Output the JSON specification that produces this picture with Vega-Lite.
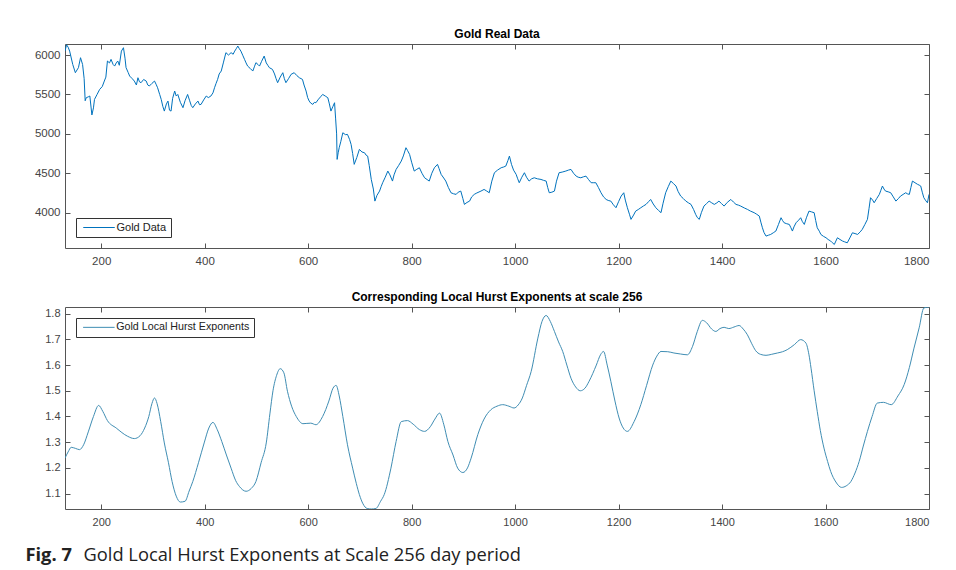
{
  "$schema": "https://vega.github.io/schema/vega-lite/v6.json",
  "background": "white",
  "padding": {"left": 24, "top": 27, "right": 5, "bottom": 5},
  "bounds": "flush",
  "spacing": 59,
  "datasets": {
    "gold": [
      {"day":130,"price":6050},{"day":133,"price":6130},{"day":136,"price":6100},{"day":139,"price":6050},{"day":145,"price":5880},{"day":150,"price":5776},{"day":156,"price":5840},{"day":160,"price":5966},{"day":164,"price":5880},{"day":167,"price":5700},{"day":169,"price":5420},{"day":171,"price":5458},{"day":175,"price":5470},{"day":178,"price":5480},{"day":182,"price":5240},{"day":185,"price":5330},{"day":187,"price":5437},{"day":192,"price":5500},{"day":197,"price":5564},{"day":202,"price":5600},{"day":206,"price":5670},{"day":209,"price":5720},{"day":212,"price":5924},{"day":216,"price":5900},{"day":219,"price":5945},{"day":223,"price":5880},{"day":226,"price":5860},{"day":229,"price":5900},{"day":232,"price":5924},{"day":235,"price":5870},{"day":239,"price":6050},{"day":243,"price":6093},{"day":246,"price":5960},{"day":248,"price":5840},{"day":252,"price":5780},{"day":255,"price":5733},{"day":260,"price":5700},{"day":264,"price":5670},{"day":268,"price":5620},{"day":271,"price":5712},{"day":274,"price":5660},{"day":277,"price":5649},{"day":282,"price":5690},{"day":287,"price":5670},{"day":290,"price":5620},{"day":293,"price":5607},{"day":298,"price":5640},{"day":303,"price":5670},{"day":306,"price":5630},{"day":309,"price":5585},{"day":313,"price":5500},{"day":316,"price":5437},{"day":319,"price":5350},{"day":322,"price":5289},{"day":326,"price":5380},{"day":329,"price":5416},{"day":332,"price":5300},{"day":335,"price":5289},{"day":338,"price":5450},{"day":342,"price":5543},{"day":345,"price":5480},{"day":348,"price":5500},{"day":353,"price":5400},{"day":358,"price":5332},{"day":362,"price":5420},{"day":367,"price":5500},{"day":371,"price":5420},{"day":374,"price":5360},{"day":377,"price":5332},{"day":382,"price":5380},{"day":387,"price":5416},{"day":390,"price":5370},{"day":393,"price":5374},{"day":398,"price":5430},{"day":403,"price":5480},{"day":407,"price":5460},{"day":412,"price":5480},{"day":416,"price":5520},{"day":419,"price":5585},{"day":422,"price":5640},{"day":425,"price":5691},{"day":428,"price":5760},{"day":432,"price":5797},{"day":436,"price":5900},{"day":441,"price":6030},{"day":446,"price":6000},{"day":451,"price":6030},{"day":455,"price":6010},{"day":458,"price":6050},{"day":461,"price":6080},{"day":464,"price":6114},{"day":467,"price":6080},{"day":470,"price":6050},{"day":474,"price":5990},{"day":477,"price":5945},{"day":480,"price":5900},{"day":483,"price":5860},{"day":488,"price":5830},{"day":493,"price":5797},{"day":496,"price":5850},{"day":499,"price":5903},{"day":503,"price":5880},{"day":506,"price":5860},{"day":510,"price":5920},{"day":515,"price":5987},{"day":519,"price":5900},{"day":522,"price":5870},{"day":525,"price":5840},{"day":531,"price":5818},{"day":535,"price":5760},{"day":538,"price":5700},{"day":541,"price":5649},{"day":546,"price":5720},{"day":551,"price":5776},{"day":554,"price":5700},{"day":557,"price":5649},{"day":562,"price":5700},{"day":567,"price":5755},{"day":573,"price":5776},{"day":578,"price":5740},{"day":583,"price":5712},{"day":589,"price":5691},{"day":592,"price":5620},{"day":596,"price":5543},{"day":599,"price":5460},{"day":602,"price":5416},{"day":605,"price":5390},{"day":609,"price":5374},{"day":612,"price":5400},{"day":615,"price":5395},{"day":620,"price":5440},{"day":624,"price":5470},{"day":628,"price":5500},{"day":633,"price":5480},{"day":638,"price":5458},{"day":641,"price":5380},{"day":644,"price":5289},{"day":648,"price":5350},{"day":651,"price":5395},{"day":653,"price":5200},{"day":655,"price":5000},{"day":656,"price":4676},{"day":658,"price":4760},{"day":660,"price":4824},{"day":663,"price":4900},{"day":667,"price":5014},{"day":672,"price":4990},{"day":676,"price":4993},{"day":680,"price":4930},{"day":683,"price":4866},{"day":686,"price":4750},{"day":689,"price":4613},{"day":694,"price":4700},{"day":699,"price":4803},{"day":704,"price":4770},{"day":709,"price":4760},{"day":712,"price":4730},{"day":715,"price":4718},{"day":718,"price":4600},{"day":722,"price":4422},{"day":726,"price":4300},{"day":729,"price":4147},{"day":733,"price":4220},{"day":738,"price":4274},{"day":741,"price":4330},{"day":744,"price":4380},{"day":749,"price":4450},{"day":754,"price":4528},{"day":758,"price":4480},{"day":763,"price":4401},{"day":766,"price":4480},{"day":770,"price":4549},{"day":775,"price":4600},{"day":780,"price":4655},{"day":784,"price":4720},{"day":789,"price":4824},{"day":792,"price":4790},{"day":796,"price":4740},{"day":800,"price":4640},{"day":805,"price":4528},{"day":810,"price":4550},{"day":815,"price":4570},{"day":820,"price":4500},{"day":825,"price":4443},{"day":830,"price":4420},{"day":834,"price":4401},{"day":839,"price":4500},{"day":844,"price":4570},{"day":850,"price":4613},{"day":853,"price":4560},{"day":857,"price":4486},{"day":862,"price":4440},{"day":866,"price":4401},{"day":871,"price":4320},{"day":876,"price":4253},{"day":881,"price":4240},{"day":886,"price":4232},{"day":890,"price":4260},{"day":895,"price":4274},{"day":899,"price":4180},{"day":902,"price":4105},{"day":907,"price":4130},{"day":912,"price":4147},{"day":916,"price":4200},{"day":921,"price":4232},{"day":926,"price":4250},{"day":934,"price":4274},{"day":940,"price":4295},{"day":945,"price":4275},{"day":950,"price":4253},{"day":955,"price":4400},{"day":960,"price":4507},{"day":966,"price":4540},{"day":973,"price":4570},{"day":978,"price":4580},{"day":982,"price":4591},{"day":986,"price":4660},{"day":989,"price":4718},{"day":993,"price":4613},{"day":997,"price":4540},{"day":1002,"price":4486},{"day":1005,"price":4430},{"day":1008,"price":4380},{"day":1013,"price":4450},{"day":1018,"price":4507},{"day":1022,"price":4450},{"day":1027,"price":4401},{"day":1032,"price":4430},{"day":1037,"price":4443},{"day":1043,"price":4430},{"day":1050,"price":4422},{"day":1055,"price":4410},{"day":1060,"price":4401},{"day":1063,"price":4320},{"day":1066,"price":4253},{"day":1071,"price":4260},{"day":1076,"price":4274},{"day":1080,"price":4400},{"day":1085,"price":4507},{"day":1091,"price":4515},{"day":1098,"price":4528},{"day":1103,"price":4540},{"day":1108,"price":4549},{"day":1113,"price":4500},{"day":1118,"price":4464},{"day":1122,"price":4450},{"day":1127,"price":4443},{"day":1132,"price":4455},{"day":1137,"price":4464},{"day":1142,"price":4420},{"day":1147,"price":4380},{"day":1151,"price":4380},{"day":1156,"price":4380},{"day":1161,"price":4320},{"day":1166,"price":4253},{"day":1171,"price":4200},{"day":1176,"price":4168},{"day":1180,"price":4155},{"day":1185,"price":4147},{"day":1190,"price":4100},{"day":1195,"price":4063},{"day":1200,"price":4140},{"day":1205,"price":4211},{"day":1210,"price":4253},{"day":1213,"price":4160},{"day":1217,"price":4063},{"day":1221,"price":3980},{"day":1224,"price":3915},{"day":1229,"price":3970},{"day":1233,"price":4020},{"day":1238,"price":4040},{"day":1243,"price":4063},{"day":1248,"price":4085},{"day":1253,"price":4105},{"day":1258,"price":4140},{"day":1262,"price":4168},{"day":1267,"price":4110},{"day":1272,"price":4063},{"day":1277,"price":4030},{"day":1282,"price":4000},{"day":1286,"price":4120},{"day":1291,"price":4253},{"day":1296,"price":4330},{"day":1301,"price":4401},{"day":1306,"price":4370},{"day":1311,"price":4338},{"day":1315,"price":4270},{"day":1320,"price":4211},{"day":1325,"price":4180},{"day":1330,"price":4147},{"day":1335,"price":4125},{"day":1340,"price":4105},{"day":1345,"price":4040},{"day":1349,"price":3978},{"day":1352,"price":3940},{"day":1356,"price":3915},{"day":1360,"price":4000},{"day":1365,"price":4084},{"day":1370,"price":4115},{"day":1375,"price":4147},{"day":1380,"price":4125},{"day":1385,"price":4105},{"day":1390,"price":4125},{"day":1394,"price":4147},{"day":1399,"price":4115},{"day":1404,"price":4084},{"day":1410,"price":4130},{"day":1417,"price":4168},{"day":1422,"price":4135},{"day":1427,"price":4105},{"day":1432,"price":4095},{"day":1436,"price":4084},{"day":1443,"price":4060},{"day":1449,"price":4042},{"day":1455,"price":4020},{"day":1462,"price":4000},{"day":1467,"price":3980},{"day":1472,"price":3957},{"day":1475,"price":3880},{"day":1478,"price":3809},{"day":1481,"price":3750},{"day":1485,"price":3703},{"day":1490,"price":3715},{"day":1494,"price":3724},{"day":1499,"price":3745},{"day":1504,"price":3767},{"day":1509,"price":3850},{"day":1514,"price":3936},{"day":1517,"price":3900},{"day":1520,"price":3872},{"day":1525,"price":3860},{"day":1530,"price":3851},{"day":1533,"price":3810},{"day":1536,"price":3767},{"day":1539,"price":3820},{"day":1543,"price":3872},{"day":1548,"price":3905},{"day":1552,"price":3936},{"day":1555,"price":3890},{"day":1559,"price":3851},{"day":1563,"price":3935},{"day":1568,"price":4020},{"day":1573,"price":4010},{"day":1578,"price":4000},{"day":1581,"price":3900},{"day":1584,"price":3809},{"day":1588,"price":3765},{"day":1591,"price":3724},{"day":1596,"price":3700},{"day":1601,"price":3682},{"day":1605,"price":3660},{"day":1610,"price":3640},{"day":1613,"price":3620},{"day":1617,"price":3597},{"day":1620,"price":3640},{"day":1623,"price":3682},{"day":1628,"price":3660},{"day":1633,"price":3640},{"day":1637,"price":3630},{"day":1642,"price":3618},{"day":1647,"price":3680},{"day":1652,"price":3745},{"day":1657,"price":3735},{"day":1662,"price":3724},{"day":1667,"price":3756},{"day":1671,"price":3788},{"day":1676,"price":3850},{"day":1681,"price":3915},{"day":1684,"price":4050},{"day":1687,"price":4190},{"day":1691,"price":4160},{"day":1694,"price":4126},{"day":1699,"price":4180},{"day":1704,"price":4232},{"day":1707,"price":4285},{"day":1710,"price":4338},{"day":1713,"price":4300},{"day":1716,"price":4274},{"day":1721,"price":4265},{"day":1726,"price":4253},{"day":1731,"price":4200},{"day":1736,"price":4147},{"day":1741,"price":4180},{"day":1745,"price":4211},{"day":1750,"price":4232},{"day":1755,"price":4253},{"day":1758,"price":4240},{"day":1762,"price":4232},{"day":1765,"price":4320},{"day":1768,"price":4401},{"day":1773,"price":4380},{"day":1778,"price":4359},{"day":1781,"price":4350},{"day":1784,"price":4338},{"day":1787,"price":4260},{"day":1790,"price":4190},{"day":1794,"price":4150},{"day":1797,"price":4126},{"day":1800,"price":4232}
    ],
    "hurst": [
      {"day":130,"h":1.238},{"day":136,"h":1.262},{"day":142,"h":1.28},{"day":150,"h":1.276},{"day":158,"h":1.271},{"day":166,"h":1.29},{"day":175,"h":1.34},{"day":185,"h":1.40},{"day":195,"h":1.443},{"day":203,"h":1.42},{"day":212,"h":1.384},{"day":229,"h":1.355},{"day":251,"h":1.323},{"day":264,"h":1.314},{"day":275,"h":1.325},{"day":284,"h":1.355},{"day":292,"h":1.40},{"day":298,"h":1.45},{"day":303,"h":1.472},{"day":308,"h":1.45},{"day":315,"h":1.38},{"day":322,"h":1.297},{"day":330,"h":1.22},{"day":337,"h":1.147},{"day":345,"h":1.09},{"day":353,"h":1.067},{"day":362,"h":1.07},{"day":370,"h":1.11},{"day":377,"h":1.147},{"day":388,"h":1.22},{"day":399,"h":1.297},{"day":408,"h":1.355},{"day":416,"h":1.377},{"day":424,"h":1.35},{"day":433,"h":1.303},{"day":442,"h":1.25},{"day":451,"h":1.199},{"day":460,"h":1.15},{"day":467,"h":1.128},{"day":480,"h":1.109},{"day":490,"h":1.12},{"day":499,"h":1.147},{"day":509,"h":1.22},{"day":519,"h":1.297},{"day":526,"h":1.41},{"day":532,"h":1.50},{"day":539,"h":1.56},{"day":546,"h":1.586},{"day":553,"h":1.57},{"day":560,"h":1.498},{"day":568,"h":1.44},{"day":577,"h":1.40},{"day":590,"h":1.372},{"day":605,"h":1.374},{"day":615,"h":1.368},{"day":628,"h":1.40},{"day":640,"h":1.46},{"day":648,"h":1.51},{"day":654,"h":1.521},{"day":660,"h":1.48},{"day":667,"h":1.40},{"day":676,"h":1.29},{"day":686,"h":1.199},{"day":693,"h":1.14},{"day":699,"h":1.096},{"day":706,"h":1.06},{"day":714,"h":1.042},{"day":722,"h":1.04},{"day":731,"h":1.042},{"day":740,"h":1.07},{"day":747,"h":1.096},{"day":760,"h":1.199},{"day":770,"h":1.303},{"day":780,"h":1.38},{"day":792,"h":1.384},{"day":803,"h":1.37},{"day":815,"h":1.349},{"day":825,"h":1.342},{"day":836,"h":1.36},{"day":845,"h":1.39},{"day":854,"h":1.413},{"day":862,"h":1.37},{"day":870,"h":1.303},{"day":880,"h":1.25},{"day":889,"h":1.199},{"day":899,"h":1.182},{"day":908,"h":1.2},{"day":915,"h":1.238},{"day":928,"h":1.33},{"day":940,"h":1.39},{"day":953,"h":1.426},{"day":965,"h":1.44},{"day":976,"h":1.446},{"day":988,"h":1.44},{"day":998,"h":1.433},{"day":1006,"h":1.445},{"day":1014,"h":1.472},{"day":1022,"h":1.52},{"day":1031,"h":1.575},{"day":1044,"h":1.705},{"day":1052,"h":1.77},{"day":1060,"h":1.793},{"day":1068,"h":1.77},{"day":1076,"h":1.731},{"day":1084,"h":1.69},{"day":1092,"h":1.653},{"day":1100,"h":1.60},{"day":1108,"h":1.549},{"day":1117,"h":1.515},{"day":1126,"h":1.50},{"day":1135,"h":1.51},{"day":1143,"h":1.537},{"day":1157,"h":1.60},{"day":1165,"h":1.64},{"day":1171,"h":1.653},{"day":1178,"h":1.60},{"day":1185,"h":1.537},{"day":1193,"h":1.46},{"day":1201,"h":1.394},{"day":1209,"h":1.355},{"day":1217,"h":1.342},{"day":1230,"h":1.38},{"day":1243,"h":1.446},{"day":1254,"h":1.52},{"day":1266,"h":1.60},{"day":1274,"h":1.635},{"day":1282,"h":1.653},{"day":1295,"h":1.652},{"day":1307,"h":1.647},{"day":1320,"h":1.643},{"day":1333,"h":1.64},{"day":1343,"h":1.673},{"day":1352,"h":1.73},{"day":1362,"h":1.774},{"day":1370,"h":1.765},{"day":1380,"h":1.74},{"day":1388,"h":1.731},{"day":1396,"h":1.742},{"day":1404,"h":1.747},{"day":1413,"h":1.742},{"day":1423,"h":1.748},{"day":1433,"h":1.754},{"day":1441,"h":1.74},{"day":1449,"h":1.718},{"day":1457,"h":1.685},{"day":1465,"h":1.656},{"day":1474,"h":1.642},{"day":1485,"h":1.638},{"day":1496,"h":1.642},{"day":1507,"h":1.647},{"day":1517,"h":1.652},{"day":1526,"h":1.66},{"day":1540,"h":1.68},{"day":1552,"h":1.699},{"day":1562,"h":1.686},{"day":1568,"h":1.64},{"day":1572,"h":1.588},{"day":1578,"h":1.50},{"day":1584,"h":1.42},{"day":1590,"h":1.345},{"day":1597,"h":1.277},{"day":1604,"h":1.225},{"day":1610,"h":1.186},{"day":1620,"h":1.145},{"day":1631,"h":1.124},{"day":1640,"h":1.13},{"day":1649,"h":1.147},{"day":1657,"h":1.18},{"day":1665,"h":1.225},{"day":1673,"h":1.285},{"day":1681,"h":1.342},{"day":1690,"h":1.40},{"day":1700,"h":1.452},{"day":1712,"h":1.455},{"day":1727,"h":1.446},{"day":1740,"h":1.48},{"day":1752,"h":1.524},{"day":1762,"h":1.59},{"day":1771,"h":1.666},{"day":1781,"h":1.745},{"day":1790,"h":1.822},{"day":1800,"h":1.826}
    ]
  },
  "vconcat": [
    {
      "width": 864,
      "height": 204,
      "title": "Gold Real Data",
      "data": {"name": "gold"},
      "layer": [
        {
          "mark": {"type": "line", "strokeWidth": 1, "clip": true},
          "encoding": {
            "x": {"field": "day", "type": "quantitative", "scale": {"domain": [130, 1800], "nice": false, "zero": false},
                  "axis": {"orient": "bottom", "title": null, "values": [200, 400, 600, 800, 1000, 1200, 1400, 1600, 1800], "format": "d", "labelFontSize": 11.5, "labelPadding": 12}},
            "y": {"field": "price", "type": "quantitative", "scale": {"domain": [3552, 6140], "nice": false, "zero": false},
                  "axis": {"orient": "left", "title": null, "values": [4000, 4500, 5000, 5500, 6000], "format": "d", "labelFontSize": 11.5, "labelPadding": 10}},
            "color": {"datum": "Gold Data", "type": "nominal", "scale": {"range": ["#0072BD"]},
                      "legend": {"orient": "bottom-left", "offset": 11, "labelFontSize": 11}}
          }
        },
        {
          "mark": {"type": "line", "opacity": 0},
          "encoding": {
            "x": {"field": "day", "type": "quantitative", "axis": {"orient": "top", "title": null, "labels": false, "values": [200, 400, 600, 800, 1000, 1200, 1400, 1600, 1800]}},
            "y": {"field": "price", "type": "quantitative", "axis": {"orient": "right", "title": null, "labels": false, "values": [4000, 4500, 5000, 5500, 6000]}}
          }
        }
      ],
      "resolve": {"axis": {"x": "independent", "y": "independent"}}
    },
    {
      "width": 864,
      "height": 202,
      "title": "Corresponding Local Hurst Exponents at scale 256",
      "data": {"name": "hurst"},
      "layer": [
        {
          "mark": {"type": "line", "strokeWidth": 1, "interpolate": "monotone", "clip": true},
          "encoding": {
            "x": {"field": "day", "type": "quantitative", "scale": {"domain": [130, 1800], "nice": false, "zero": false},
                  "axis": {"orient": "bottom", "values": [200, 400, 600, 800, 1000, 1200, 1400, 1600, 1800], "format": "d", "labelPadding": 12,
                           "title": "Gold Local Hurst Exponents at Scale 256 day period", "titleX": 18, "titleY": 51, "titleAlign": "left", "titleAnchor": "start", "titleBaseline": "alphabetic",
                           "titleFont": "Open Sans", "titleFontSize": 18.3, "titleFontWeight": "normal", "titleColor": "#222222"}},
            "y": {"field": "h", "type": "quantitative", "scale": {"domain": [1.04, 1.826], "nice": false, "zero": false},
                  "axis": {"orient": "left", "values": [1.1, 1.2, 1.3, 1.4, 1.5, 1.6, 1.7, 1.8], "format": ".1f", "labelPadding": 10,
                           "title": "Fig. 7", "titleAngle": 0, "titleX": -40, "titleY": 253, "titleAlign": "left", "titleBaseline": "alphabetic",
                           "titleFont": "Open Sans", "titleFontSize": 18.3, "titleFontWeight": "bold", "titleColor": "#222222"}},
            "color": {"datum": "Gold Local Hurst Exponents", "type": "nominal", "scale": {"range": ["#3f8db3"]},
                      "legend": {"orient": "top-left", "offset": 11, "labelFontSize": 10.7}}
          }
        },
        {
          "mark": {"type": "line", "opacity": 0},
          "encoding": {
            "x": {"field": "day", "type": "quantitative", "axis": {"orient": "top", "title": null, "labels": false, "values": [200, 400, 600, 800, 1000, 1200, 1400, 1600, 1800]}},
            "y": {"field": "h", "type": "quantitative", "axis": {"orient": "right", "title": null, "labels": false, "values": [1.1, 1.2, 1.3, 1.4, 1.5, 1.6, 1.7, 1.8]}}
          }
        }
      ],
      "resolve": {"axis": {"x": "independent", "y": "independent"}}
    }
  ],
  "resolve": {"scale": {"color": "independent"}, "legend": {"color": "independent"}},
  "config": {
    "font": "Liberation Sans",
    "view": {"stroke": "#555555", "strokeWidth": 1},
    "axis": {"domain": false, "grid": false, "ticks": true, "tickSize": -5, "tickColor": "#555555", "labelColor": "#444444", "labelFont": "Liberation Sans", "labelFontSize": 11},
    "title": {"font": "Liberation Sans", "fontSize": 12, "fontWeight": "bold", "color": "#000000", "offset": 3},
    "legend": {"title": null, "symbolType": "M-4.5,0H4.5", "symbolSize": 49, "symbolStrokeWidth": 1, "symbolOffset": 13.5, "labelOffset": 12, "labelFont": "Liberation Sans", "labelColor": "#222222", "strokeColor": "#333333", "fillColor": "white", "padding": 4}
  }
}
